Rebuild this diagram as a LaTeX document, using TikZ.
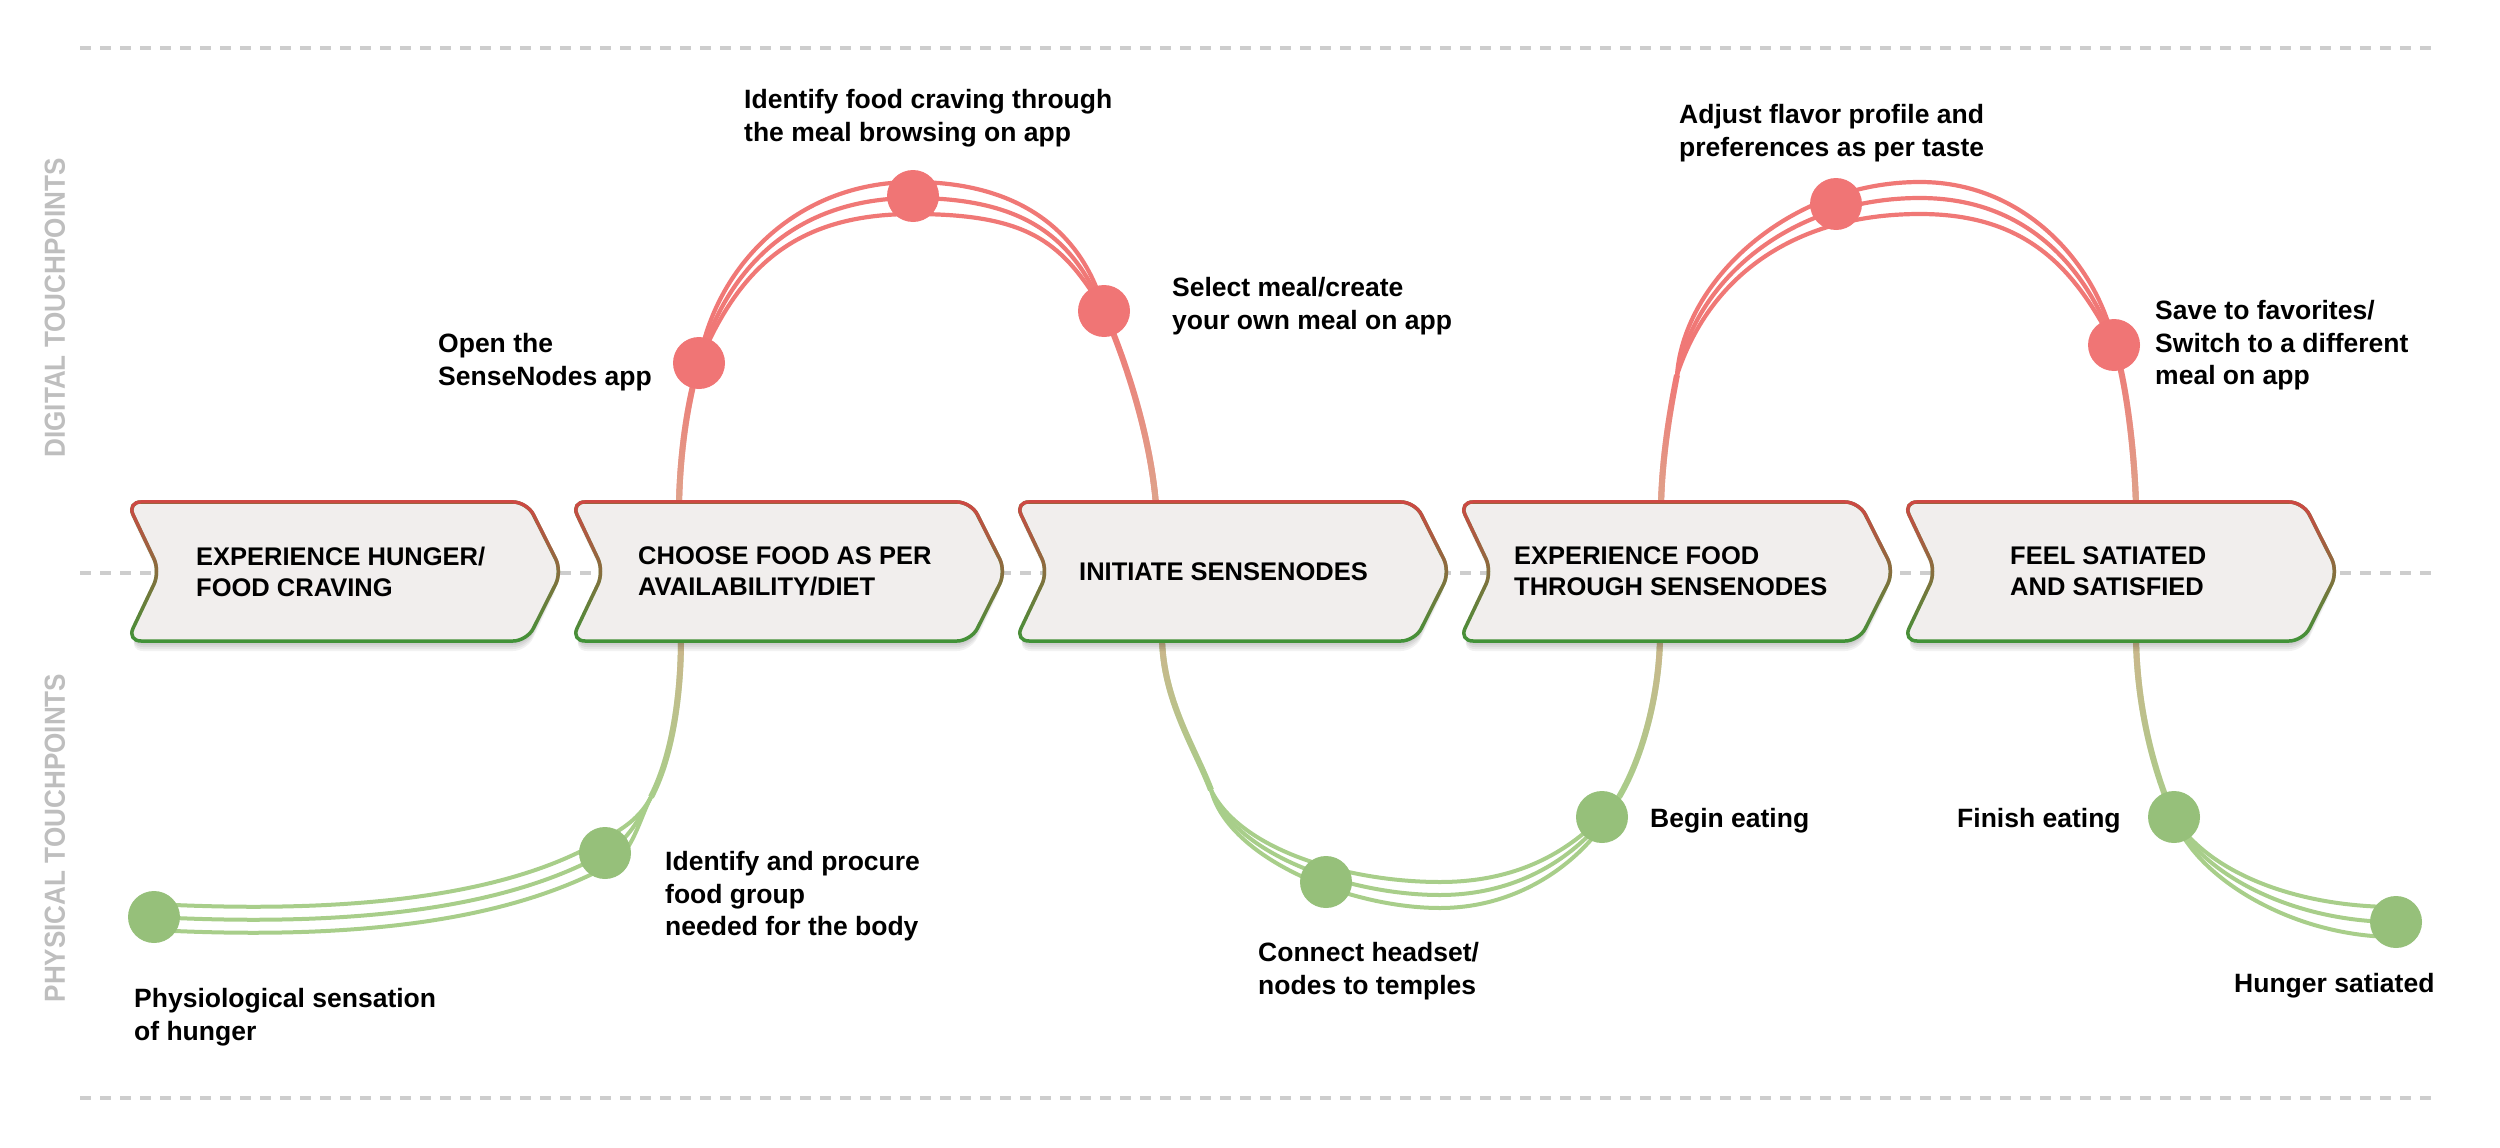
\documentclass[tikz,border=0pt]{standalone}
\usepackage{fontspec}
\setmainfont{Liberation Sans}
\usetikzlibrary{fadings,calc}

\definecolor{redln}{RGB}{240,120,118}
\definecolor{salmon}{RGB}{222,165,140}
\definecolor{grnln}{RGB}{168,206,138}
\definecolor{tanln}{RGB}{205,182,140}
\definecolor{reddot}{RGB}{240,117,117}
\definecolor{grndot}{RGB}{150,192,122}
\definecolor{chevred}{RGB}{208,72,68}
\definecolor{chevgrn}{RGB}{64,148,56}
\definecolor{chevfill}{RGB}{241,238,237}
\definecolor{dashgray}{RGB}{205,205,205}
\definecolor{sidegray}{RGB}{190,190,190}

\tikzfading[name=fadedown, top color=transparent!0, bottom color=transparent!100]
\tikzfading[name=fadeup, top color=transparent!100, bottom color=transparent!0]

\tikzset{
  dashln/.style={draw=dashgray, line width=4, dash pattern=on 11pt off 9pt},
  strandr/.style={draw=redln, line width=4.2},
  strandg/.style={draw=grnln, line width=4},
  singler/.style={draw=redln, line width=6, postaction={draw=salmon, line width=6, path fading=fadeup}},
  singleg/.style={draw=grnln, line width=6, postaction={draw=tanln, line width=6, path fading=fadedown}},
  chevshadow/.style={fill=black, fill opacity=0.05, rounded corners=14},
  chevbox/.style={fill=chevfill, draw=chevgrn, line width=3.5, rounded corners=14,
     postaction={draw=chevred, line width=3.5, rounded corners=14, path fading=fadedown}},
  chevtxt/.style={font=\fontsize{25.5}{31}\selectfont\bfseries, align=left, inner sep=0, anchor=west, text=black},
  lab/.style={font=\fontsize{26.5}{32.5}\selectfont\bfseries, align=left, inner sep=0, anchor=north west, text=black},
  sidelab/.style={font=\fontsize{29}{29}\selectfont\bfseries, text=sidegray, inner sep=0, rotate=90},
  rdot/.style={circle, fill=reddot, minimum size=52, inner sep=0},
  gdot/.style={circle, fill=grndot, minimum size=52, inner sep=0}
}
\newcommand\lstrut{\rule{0pt}{22pt}}

\begin{document}
\begin{tikzpicture}[x=1pt,y=-1pt]
\useasboundingbox (0,0) rectangle (2500,1148);

% dashed guide lines
\draw[dashln] (80,48) -- (2432,48);
\draw[dashln] (80,573) -- (2432,573);
\draw[dashln] (80,1098) -- (2432,1098);

% key coordinates
\coordinate (c2t) at (679,505);
\coordinate (c3t) at (1156,505);
\coordinate (c4t) at (1661,505);
\coordinate (c5t) at (2136,505);
\coordinate (c2b) at (681,638);
\coordinate (c3b) at (1162,638);
\coordinate (c4b) at (1660,638);
\coordinate (c5b) at (2136,638);
\coordinate (r1) at (699,363);
\coordinate (r2) at (913,196);
\coordinate (r3) at (1104,311);
\coordinate (r4) at (1836,204);
\coordinate (r5) at (2114,345);
\coordinate (s4) at (1677,375);
\coordinate (g1) at (154,917);
\coordinate (g2) at (605,853);
\coordinate (g3) at (1326,882);
\coordinate (g4) at (1602,817);
\coordinate (g5) at (2174,817);
\coordinate (g6) at (2396,922);
\coordinate (ca) at (651,797);
\coordinate (sb) at (1211,790);
\coordinate (cb) at (1619,797);

% red arch 1
\draw[singler] (c2t) .. controls (680,450) and (688,400) .. (r1);
\foreach \k in {-1,0,1} {
  \draw[strandr] (r1) .. controls ({727+12*\k},268) and (795,{198+16*\k}) .. (913,{198+16*\k})
     .. controls (1032,{198+16*\k}) and ({1075-12*\k},244) .. (r3);
}
\draw[singler] (r3) .. controls (1122,352) and (1150,430) .. (c3t);

% red arch 2
\draw[singler] (c4t) .. controls (1662,460) and (1669,415) .. (s4);
\foreach \k in {-1,0,1} {
  \draw[strandr] (s4) .. controls ({1696+12*\k},280) and (1790,{198+16*\k}) .. (1920,{198+16*\k})
     .. controls (2030,{198+16*\k}) and ({2088-12*\k},272) .. (r5);
}
\draw[singler] (r5) .. controls (2124,373) and (2134,440) .. (c5t);

% green A
\foreach \k in {-1,0,1} {
  \draw[strandg] ($(g1)+(0,{13*\k})$) .. controls (400,{930+13*\k}) and (530,{895+13*\k}) .. ({605+5*\k},{853+12*\k})
     .. controls ({627+5*\k},{842+12*\k}) and (640,818) .. (ca);
}
\draw[singleg] (c2b) .. controls (681,700) and (671,759) .. (ca);

% green B
\draw[singleg] (c3b) .. controls (1163,700) and (1195,748) .. (sb);
\foreach \k in {-1,0,1} {
  \draw[strandg] (sb) .. controls ({1235-6*\k},{855+4*\k}) and (1350,{895+13*\k}) .. (1440,{895+13*\k})
     .. controls (1530,{895+13*\k}) and ({1590+6*\k},{845+4*\k}) .. (cb);
}
\draw[singleg] (c4b) .. controls (1659,700) and (1640,762) .. (cb);

% green C
\draw[singleg] (c5b) .. controls (2137,710) and (2155,775) .. (g5);
\foreach \k in {-1,0,1} {
  \draw[strandg] (g5) .. controls ({2199-6*\k},{872+3*\k}) and (2290,{922+15*\k}) .. ($(g6)+(0,{15*\k})$);
}

% chevrons with soft shadow
\foreach \L in {127,571,1015,1459,1903} {
  \foreach \s in {2,4,6,8,10} {
    \path[chevshadow] ({\L+2},{502+\s}) -- ({\L+400},{502+\s}) -- ({\L+433},{571.5+\s}) -- ({\L+400},{641+\s})
       -- ({\L+2},{641+\s}) -- ({\L+35},{571.5+\s}) -- cycle;
  }
  \path[chevbox] (\L,502) -- ({\L+400},502) -- ({\L+435},571.5) -- ({\L+400},641)
     -- (\L,641) -- ({\L+33},571.5) -- cycle;
}

% chevron texts
\node[chevtxt] (c1) at (196,571.5) {EXPERIENCE HUNGER/\\FOOD CRAVING};
\node[chevtxt] (c2) at (638,571.5) {CHOOSE FOOD AS PER\\AVAILABILITY/DIET};
\node[chevtxt] (c3) at (1079,571.5) {INITIATE SENSENODES};
\node[chevtxt] (c4) at (1514,571.5) {EXPERIENCE FOOD\\THROUGH SENSENODES};
\node[chevtxt] (c5) at (2010,571.5) {FEEL SATIATED\\AND SATISFIED};

% dots
\node[rdot] (dr1) at (r1) {};
\node[rdot] (dr2) at (r2) {};
\node[rdot] (dr3) at (r3) {};
\node[rdot] (dr4) at (r4) {};
\node[rdot] (dr5) at (r5) {};
\node[gdot] (dg1) at (g1) {};
\node[gdot] (dg2) at (g2) {};
\node[gdot] (dg3) at (g3) {};
\node[gdot] (dg4) at (g4) {};
\node[gdot] (dg5) at (g5) {};
\node[gdot] (dg6) at (g6) {};

% labels
\node[lab] (l1) at (744,86.5) {\lstrut Identify food craving through\\the meal browsing on app};
\node[lab] (l2) at (438,330.5) {\lstrut Open the\\SenseNodes app};
\node[lab] (l3) at (1172,274.5) {\lstrut Select meal/create\\your own meal on app};
\node[lab] (l4) at (1679,101.5) {\lstrut Adjust flavor profile and\\preferences as per taste};
\node[lab] (l5) at (2155,297.5) {\lstrut Save to favorites/\\Switch to a different\\meal on app};
\node[lab] (l6) at (665,848.5) {\lstrut Identify and procure\\food group\\needed for the body};
\node[lab] (l7) at (134,985.5) {\lstrut Physiological sensation\\of hunger};
\node[lab] (l8) at (1258,939.5) {\lstrut Connect headset/\\nodes to temples};
\node[lab] (l9) at (1650,805.5) {\lstrut Begin eating};
\node[lab] (l10) at (1957,805.5) {\lstrut Finish eating};
\node[lab] (l11) at (2234,970.5) {\lstrut Hunger satiated};

% side labels
\node[sidelab] (dig) at (55,308) {\scalebox{0.9}[1]{DIGITAL TOUCHPOINTS}};
\node[sidelab] (phy) at (55,838) {\scalebox{0.9}[1]{PHYSICAL TOUCHPOINTS}};
\end{tikzpicture}
\end{document}
